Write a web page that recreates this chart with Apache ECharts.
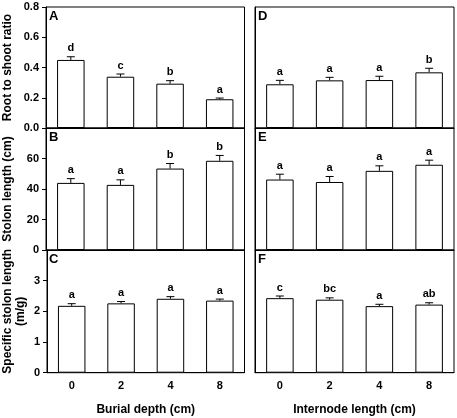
<!DOCTYPE html>
<html><head><meta charset="utf-8">
<script src="https://cdn.jsdelivr.net/npm/echarts@6/dist/echarts.min.js"></script>
<style>html,body{margin:0;padding:0;background:#fff}#c{width:457px;height:418px}</style>
</head><body><div id="c"></div>
<script>
var categories = ['0', '2', '4', '8'];
var rootShootBurial = [0.450, 0.339, 0.293, 0.190];
var rootShootBurialErr = [0.021, 0.018, 0.020, 0.008];
var rootShootBurialSig = ['d', 'c', 'b', 'a'];
var rootShootInternode = [0.289, 0.315, 0.317, 0.368];
var rootShootInternodeErr = [0.026, 0.020, 0.025, 0.027];
var rootShootInternodeSig = ['a', 'a', 'a', 'b'];
var stolonBurial = [44.0, 42.7, 53.4, 58.5];
var stolonBurialErr = [2.8, 3.3, 3.3, 3.5];
var stolonBurialSig = ['a', 'a', 'b', 'b'];
var stolonInternode = [46.2, 44.6, 51.9, 55.9];
var stolonInternodeErr = [3.5, 3.6, 3.3, 3.0];
var stolonInternodeSig = ['a', 'a', 'a', 'a'];
var sslBurial = [2.18, 2.26, 2.41, 2.35];
var sslBurialErr = [0.07, 0.06, 0.07, 0.05];
var sslBurialSig = ['a', 'a', 'a', 'a'];
var sslInternode = [2.43, 2.38, 2.17, 2.22];
var sslInternodeErr = [0.07, 0.06, 0.06, 0.06];
var sslInternodeSig = ['c', 'bc', 'a', 'ab'];
var panelLetters = ['A', 'B', 'C', 'D', 'E', 'F'];
var yNames = ['Root to shoot ratio', 'Stolon length (cm)', 'Specific stolon length\n(m/g)'];
var xNames = ['Burial depth (cm)', 'Internode length (cm)'];
var yRanges = [[0, 0.8, 0.2], [0, 80, 20], [0, 4, 1]];

var FONT = 'Liberation Sans, Arial, sans-serif';
var cols = [{left: 46, width: 198.5}, {left: 255, width: 199}];
var rows = [{top: 7, height: 121}, {top: 128, height: 122}, {top: 250, height: 122.7}];
var panels = [
  [rootShootBurial, rootShootBurialErr, rootShootBurialSig],
  [stolonBurial, stolonBurialErr, stolonBurialSig],
  [sslBurial, sslBurialErr, sslBurialSig],
  [rootShootInternode, rootShootInternodeErr, rootShootInternodeSig],
  [stolonInternode, stolonInternodeErr, stolonInternodeSig],
  [sslInternode, sslInternodeErr, sslInternodeSig]
];

var grids = [], xAxes = [], yAxes = [], series = [], graphics = [];
for (var c = 0; c < 2; c++) {
  for (var r = 0; r < 3; r++) {
    var i = c * 3 + r;
    grids.push({left: cols[c].left, width: cols[c].width, top: rows[r].top, height: rows[r].height,
      show: true, borderColor: '#000', borderWidth: 1, backgroundColor: 'transparent'});
    xAxes.push({type: 'category', gridIndex: i, data: categories,
      axisLine: {show: true, lineStyle: {color: '#000', width: 1}},
      axisTick: {show: false},
      axisLabel: {show: r === 2, color: '#000', fontFamily: FONT, fontWeight: 'bold', fontSize: 11, margin: 8},
      name: r === 2 ? xNames[c] : '', nameLocation: 'middle', nameGap: 31,
      nameTextStyle: {color: '#000', fontFamily: FONT, fontWeight: 'bold', fontSize: 12}
    });
    var yr = yRanges[r];
    yAxes.push({type: 'value', gridIndex: i, min: yr[0], max: yr[1], interval: yr[2],
      splitLine: {show: false},
      axisLine: {show: true, lineStyle: {color: '#000', width: 1}},
      axisTick: {show: c === 0, length: 4, lineStyle: {color: '#000'}},
      axisLabel: {show: c === 0, showMaxLabel: r === 0, color: '#000', fontFamily: FONT, fontWeight: 'bold', fontSize: 11, margin: 7,
        formatter: r === 0 ? function (v) { return v.toFixed(1); } : null},
      name: c === 0 ? yNames[r] : '', nameLocation: 'middle', nameGap: r === 2 ? 20 : 32,
      nameTextStyle: {color: '#000', fontFamily: FONT, fontWeight: 'bold', fontSize: 12, lineHeight: 13}
    });
    var p = panels[i];
    series.push({type: 'bar', xAxisIndex: i, yAxisIndex: i, data: p[0], barWidth: 27.5,
      itemStyle: {color: '#fff', borderColor: '#000', borderWidth: 1}, silent: true, animation: false});
    (function (vals, errs, sigs) {
      series.push({type: 'custom', xAxisIndex: i, yAxisIndex: i, animation: false, silent: true,
        data: vals.map(function (v, k) { return [k, v, errs[k]]; }),
        renderItem: function (params, api) {
          var k = api.value(0), v = api.value(1), e = api.value(2);
          var base = api.coord([k, v]);
          var top = api.coord([k, v + e]);
          return {type: 'group', children: [
            {type: 'line', shape: {x1: base[0], y1: base[1], x2: top[0], y2: top[1]}, style: {stroke: '#000', lineWidth: 1}},
            {type: 'line', shape: {x1: top[0] - 4, y1: top[1], x2: top[0] + 4, y2: top[1]}, style: {stroke: '#000', lineWidth: 1}},
            {type: 'text', x: top[0], y: top[1] - 3, style: {text: sigs[k], fill: '#000', font: 'bold 11px ' + FONT, align: 'center', verticalAlign: 'bottom'}}
          ]};
        }
      });
    })(p[0], p[1], p[2]);
    graphics.push({type: 'text', left: cols[c].left + 3, top: rows[r].top + 3,
      style: {text: panelLetters[i], fill: '#000', font: 'bold 13px ' + FONT}});
  }
}

var chart = echarts.init(document.getElementById('c'), null, {renderer: 'canvas'});
chart.setOption({animation: false, backgroundColor: '#fff', grid: grids, xAxis: xAxes, yAxis: yAxes, series: series, graphic: graphics});
</script></body></html>
